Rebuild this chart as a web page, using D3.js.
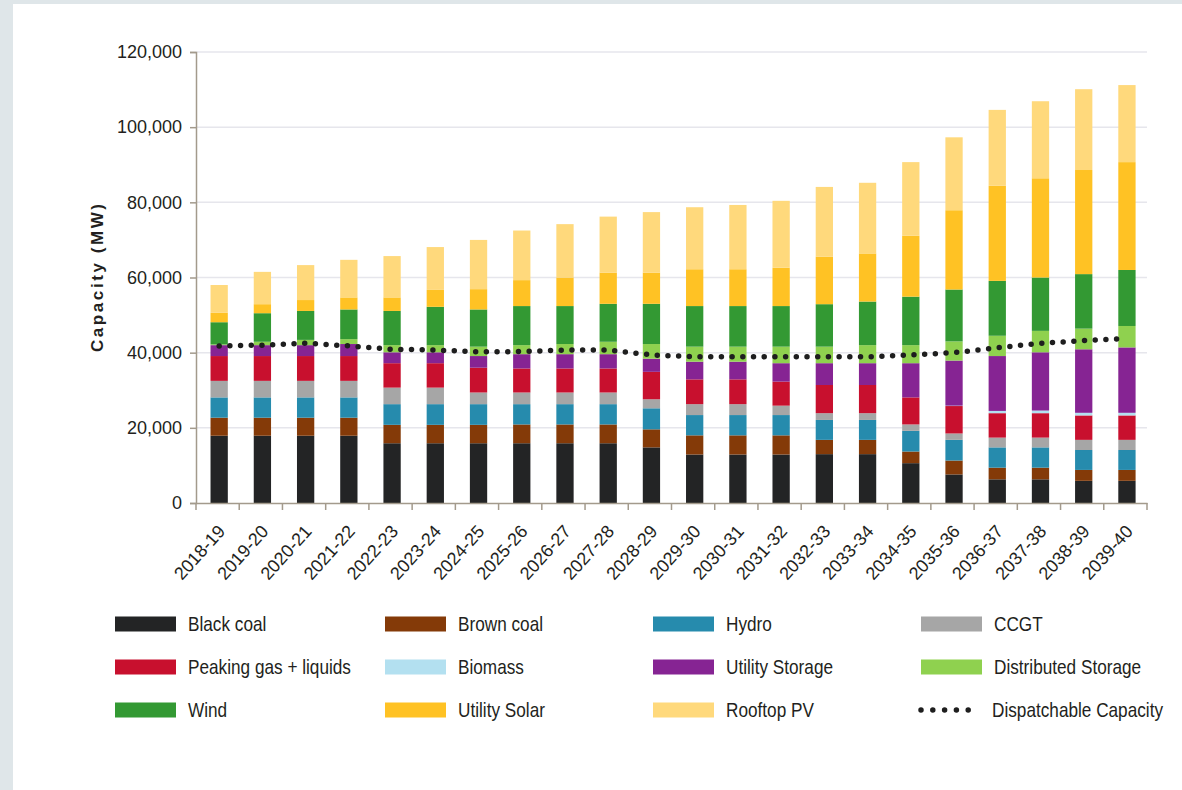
<!DOCTYPE html>
<html>
<head>
<meta charset="utf-8">
<script src="https://cdn.jsdelivr.net/npm/d3@7"></script>
<style>
  body { margin: 0; background: #dfe6e9; }
  svg { display: block; }
  .tick text { font-family: "Liberation Sans", Arial, sans-serif; font-size: 18px; fill: #231f20; }
  .legendText { font-family: "Liberation Sans", Arial, sans-serif; font-size: 20px; fill: #231f20; }
  .lableText { font-family: "Liberation Sans", Arial, sans-serif; font-size: 17px; font-weight: bold; fill: #231f20; }
</style>
</head>
<body>
<div id="chart"></div>
<script>

var width = 1182;
var height = 790;

var categories = ["2018-19", "2019-20", "2020-21", "2021-22", "2022-23", "2023-24", "2024-25", "2025-26",
  "2026-27", "2027-28", "2028-29", "2029-30", "2030-31", "2031-32", "2032-33", "2033-34", "2034-35",
  "2035-36", "2036-37", "2037-38", "2038-39", "2039-40"];

var seriesNames = ["Black coal", "Brown coal", "Hydro", "CCGT", "Peaking gas + liquids", "Biomass",
  "Utility Storage", "Distributed Storage", "Wind", "Utility Solar", "Rooftop PV"];

var blackCoal = [17900, 17900, 17900, 17900, 15900, 15900, 15900, 15900, 15900, 15900, 14800, 12900, 12900, 12900, 13000, 13000, 10600, 7600, 6300, 6300, 5900, 5900];
var brownCoal = [4800, 4800, 4800, 4800, 4900, 4900, 4900, 5000, 5000, 5000, 4800, 5100, 5100, 5100, 3800, 3800, 3100, 3700, 3100, 3100, 2900, 2900];
var hydro = [5400, 5400, 5400, 5400, 5500, 5500, 5500, 5400, 5400, 5400, 5600, 5400, 5400, 5400, 5300, 5300, 5500, 5500, 5400, 5400, 5300, 5300];
var ccgt = [4400, 4400, 4400, 4400, 4400, 4400, 3100, 3100, 3100, 3100, 2400, 2900, 2900, 2500, 1800, 1800, 1700, 1700, 2600, 2600, 2700, 2700];
var peaking = [6600, 6600, 6600, 6600, 6500, 6500, 6600, 6400, 6400, 6400, 7300, 6600, 6600, 6400, 7500, 7500, 7200, 7300, 6500, 6500, 6500, 6500];
var biomass = [0, 0, 0, 0, 0, 0, 0, 0, 0, 0, 0, 0, 0, 0, 0, 0, 0, 100, 600, 700, 700, 700];
var utilityStorage = [2900, 2900, 2900, 3200, 2900, 2900, 3100, 3800, 3800, 3800, 3500, 4700, 4700, 4900, 5800, 5800, 9100, 12000, 14600, 15500, 16900, 17400];
var distStorage = [200, 900, 1400, 1300, 1900, 1900, 2500, 2400, 2700, 3300, 3900, 4000, 4000, 4400, 4400, 4800, 4800, 5100, 5400, 5700, 5500, 5700];
var wind = [5900, 7600, 7700, 7900, 9100, 10200, 9900, 10400, 10100, 10100, 10700, 10800, 10800, 10800, 11300, 11600, 12900, 13800, 14600, 14200, 14500, 14900];
var utilitySolar = [2500, 2400, 2900, 3200, 3600, 4500, 5400, 6900, 7600, 8300, 8300, 9800, 9800, 10200, 12600, 12800, 16200, 21100, 25300, 26400, 27700, 28700];
var rooftopPV = [7400, 8600, 9300, 10000, 11000, 11400, 13100, 13200, 14200, 14900, 16100, 16500, 17100, 17800, 18600, 18800, 19600, 19400, 20200, 20500, 21500, 20500];

var dispatchable = [41800, 42000, 42500, 41800, 40900, 40700, 40200, 40300, 40700, 40700, 39400, 38900, 38900, 38900, 38900, 38900, 39400, 40000, 41300, 42500, 43200, 43800];

var yTicks = [0, 20000, 40000, 60000, 80000, 100000, 120000];

var colors = ["#232425", "#843a08", "#268bad", "#a6a6a6", "#c8102e", "#b3e0f0",
  "#862493", "#8fd14f", "#339933", "#ffc224", "#ffd97c"];

var seriesValues = [blackCoal, brownCoal, hydro, ccgt, peaking, biomass, utilityStorage, distStorage, wind, utilitySolar, rooftopPV];

var dataset = categories.map(function(c, i) {
  var row = {year: c};
  seriesNames.forEach(function(s, j) { row[s] = seriesValues[j][i]; });
  return row;
});

createbarchart();

function createbarchart() {

  var svg = d3.select("#chart")
    .append("svg")
    .attr("width", width)
    .attr("height", height);

  svg.append("rect")
    .attr("width", width).attr("height", height)
    .attr("fill", "#dfe6e9");

  svg.append("rect")
    .attr("x", 13).attr("y", 4)
    .attr("width", width - 13).attr("height", height - 4)
    .attr("fill", "#ffffff");

  var xScale = d3.scaleBand()
    .domain(categories)
    .range([196, 1147])
    .paddingInner(0.6)
    .paddingOuter(0.3)
    .align(0.56);

  var yScale = d3.scaleLinear()
    .domain([0, 120000])
    .range([503, 52]);

  // grid
  svg.append("g")
    .selectAll("line")
    .data(yTicks.filter(function(d) { return d > 0; }))
    .enter()
    .append("line")
    .attr("x1", 196).attr("x2", 1147)
    .attr("y1", function(d) { return yScale(d); })
    .attr("y2", function(d) { return yScale(d); })
    .attr("stroke", "#e6e6ec")
    .attr("stroke-width", 1.5);

  var stack = d3.stack().keys(seriesNames);
  var layers = stack(dataset);

  svg.append("g")
    .selectAll("g")
    .data(layers)
    .enter()
    .append("g")
    .attr("fill", function(d, i) { return colors[i]; })
    .selectAll("rect")
    .data(function(d) { return d; })
    .enter()
    .append("rect")
    .attr("x", function(d) { return xScale(d.data.year); })
    .attr("y", function(d) { return yScale(d[1]); })
    .attr("width", xScale.bandwidth())
    .attr("height", function(d) { return yScale(d[0]) - yScale(d[1]); });

  // y axis
  var yAxis = svg.append("g")
    .attr("class", "axis axis--y")
    .attr("transform", "translate(196,0)")
    .call(d3.axisLeft(yScale).tickValues(yTicks).tickFormat(d3.format(",")).tickSize(6).tickPadding(8));
  yAxis.select(".domain").attr("stroke", "#a39a8c").attr("stroke-width", 1.5);
  yAxis.selectAll(".tick line").attr("stroke", "#a39a8c").attr("stroke-width", 1.5);

  // x axis
  var xAxis = svg.append("g")
    .attr("class", "axis axis--x")
    .attr("transform", "translate(0,503)")
    .call(d3.axisBottom(xScale).tickSize(0).tickSizeOuter(0));
  xAxis.select(".domain").attr("stroke", "#a39a8c").attr("stroke-width", 1.5);
  xAxis.selectAll(".tick text")
    .attr("x", 0).attr("y", 0).attr("dy", 0)
    .attr("transform", "translate(7,29) rotate(-48)")
    .style("text-anchor", "end");

  var step = xScale.step();
  var bounds = d3.range(categories.length + 1).map(function(i) { return 196 + i * step; });
  xAxis.selectAll(".bound")
    .data(bounds)
    .enter()
    .append("line")
    .attr("class", "bound")
    .attr("x1", function(d) { return d; }).attr("x2", function(d) { return d; })
    .attr("y1", 0).attr("y2", 7)
    .attr("stroke", "#a39a8c")
    .attr("stroke-width", 1.5);

  // dispatchable capacity
  var line = d3.line()
    .x(function(d, i) { return xScale(categories[i]) + xScale.bandwidth() / 2; })
    .y(function(d) { return yScale(d); });

  svg.append("path")
    .datum(dispatchable)
    .attr("d", line)
    .attr("fill", "none")
    .attr("stroke", "#1e1e1e")
    .attr("stroke-width", 5.5)
    .attr("stroke-linecap", "round")
    .attr("stroke-dasharray", "0,10.7");

  svg.append("text")
    .attr("class", "lableText")
    .attr("transform", "translate(103,278) rotate(-90)")
    .attr("textLength", 148)
    .attr("lengthAdjust", "spacing")
    .style("text-anchor", "middle")
    .text("Capacity (MW)");

  // legend
  var legendOrder = ["Black coal", "Brown coal", "Hydro", "CCGT",
    "Peaking gas + liquids", "Biomass", "Utility Storage", "Distributed Storage",
    "Wind", "Utility Solar", "Rooftop PV", "Dispatchable Capacity"];
  var colX = [115, 385, 653, 921];
  var rowY = [624, 667, 710];

  var legend = svg.append("g")
    .selectAll("g")
    .data(legendOrder)
    .enter()
    .append("g")
    .attr("transform", function(d, i) {
      return "translate(" + colX[i % 4] + "," + rowY[Math.floor(i / 4)] + ")";
    });

  legend.filter(function(d) { return d != "Dispatchable Capacity"; })
    .append("rect")
    .attr("x", 0).attr("y", -7.5)
    .attr("width", 61).attr("height", 15)
    .attr("fill", function(d) { return colors[seriesNames.indexOf(d)]; });

  legend.filter(function(d) { return d == "Dispatchable Capacity"; })
    .append("path")
    .attr("d", "M0,0H59")
    .attr("stroke", "#1e1e1e")
    .attr("stroke-width", 5.5)
    .attr("stroke-linecap", "round")
    .attr("stroke-dasharray", "0,11.8");

  legend.append("text")
    .attr("class", "legendText")
    .attr("transform", function(d) {
      return "translate(" + (d == "Dispatchable Capacity" ? 71 : 73) + ",0) scale(0.86,1)";
    })
    .attr("dy", "0.36em")
    .text(function(d) { return d; });
}
</script>
</body>
</html>
